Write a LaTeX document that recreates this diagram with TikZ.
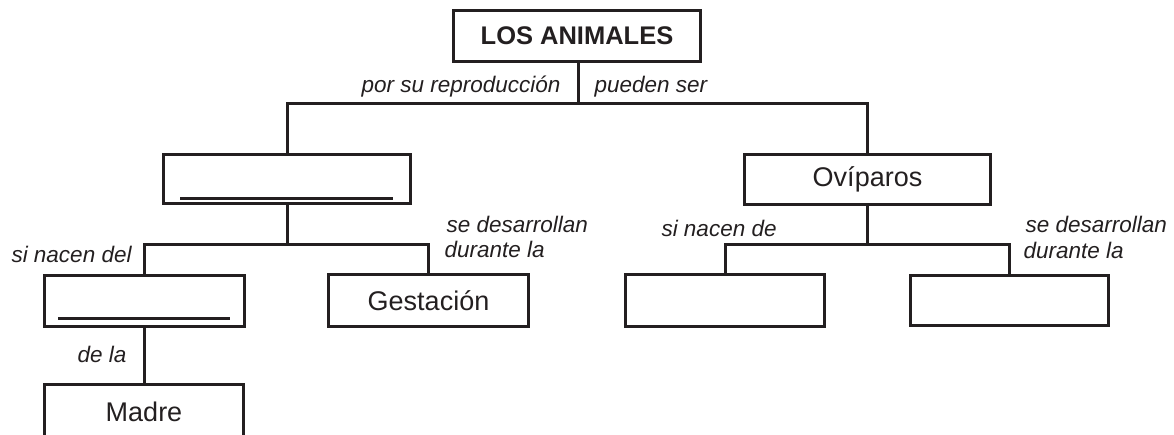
\documentclass[tikz,border=0pt]{standalone}
\usepackage{fontspec}
\setmainfont{Liberation Sans}
\definecolor{ink}{HTML}{231F20}
\begin{document}
\begin{tikzpicture}[x=1pt,y=-1pt,
  line width=3pt, line join=miter, draw=ink,
  cbox/.style={draw=ink, line width=3pt, inner sep=0pt, outer sep=0pt, anchor=north west, text=ink,
    font=\fontsize{27}{32}\selectfont},
  lbl/.style={inner sep=0pt, text=ink, font=\fontsize{22.5}{26}\selectfont\itshape},
  blank/.style={draw=ink, line width=3pt}
]
\useasboundingbox (0,0) rectangle (1174,434);
% boxes
\node[cbox, minimum width=247pt, minimum height=51pt, font=\fontsize{25.5}{30}\selectfont\bfseries] (top) at (453.5,10.5) {LOS ANIMALES};
\node[cbox, minimum width=247pt, minimum height=49pt] (box1) at (163.5,154.5) {};
\node[cbox, minimum width=246pt, minimum height=50pt] (ovi) at (744.5,154.5) {Ovíparos};
\node[cbox, minimum width=200pt, minimum height=51pt] (bl) at (44.5,275.5) {};
\node[cbox, minimum width=200pt, minimum height=52pt] (gest) at (328.5,274.5) {Gestación};
\node[cbox, minimum width=199pt, minimum height=52pt] (r1) at (625.5,274.5) {};
\node[cbox, minimum width=198pt, minimum height=50pt] (r2) at (910.5,275.5) {};
\node[cbox, minimum width=199pt, minimum height=52pt, text depth=0pt] (madre) at (44.5,384.5) {\raisebox{-3pt}{Madre}};
% blanks to fill in
\coordinate (b1a) at (180,198); \coordinate (b1b) at (393,198);
\draw[blank] (b1a) -- (b1b);
\coordinate (b2a) at (58,318); \coordinate (b2b) at (230,318);
\draw[blank] (b2a) -- (b2b);
% junctions
\coordinate (j1) at (578,103);
\coordinate (j2) at (287,244);
\coordinate (j3) at (867,244);
\coordinate (j4) at (144,356);
% connectors
\draw (top.south -| j1) -- (j1);
\draw (box1.north -| j2) |- (j1) -| (ovi.north -| j3);
\draw (box1.south -| j2) -- (j2);
\draw (bl.north -| j4) |- (j2) -| (gest.north);
\draw (ovi.south -| j3) -- (j3);
\draw (r1.north) |- (j3) -| (r2.north);
\draw (bl.south -| j4) -- (madre.north -| j4);
% labels
\node[lbl, anchor=base east] (l1) at (562,92) {por su reproducción};
\node[lbl, anchor=base west] (l2) at (593,92) {pueden ser};
\node[lbl, anchor=base west] (l3) at (10,262) {si nacen del};
\node[lbl, anchor=base west] (l4) at (445,232) {se desarrollan};
\node[lbl, anchor=base west] (l5) at (443,257) {durante la};
\node[lbl, anchor=base west] (l6) at (660,236) {si nacen de};
\node[lbl, anchor=base west] (l7) at (1024,232) {se desarrollan};
\node[lbl, anchor=base west] (l8) at (1022,258) {durante la};
\node[lbl, anchor=base east] (l9) at (128,362) {de la};
\end{tikzpicture}
\end{document}
